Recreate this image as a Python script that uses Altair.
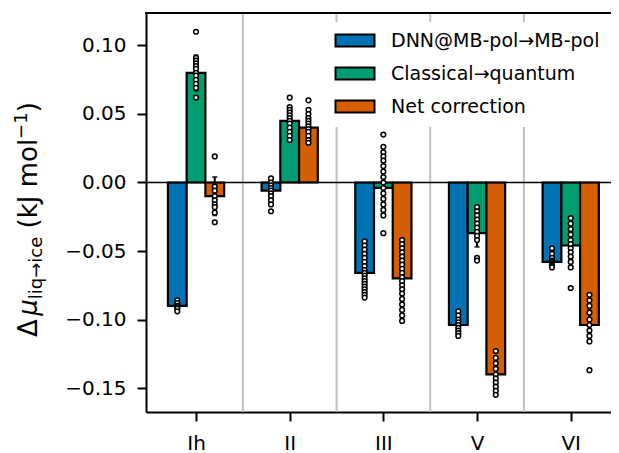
import altair as alt
import pandas as pd

categories = ["Ih", "II", "III", "V", "VI"]
series = ["DNN@MB-pol→MB-pol", "Classical→quantum", "Net correction"]
colors = ["#0173b2", "#029e73", "#d55e00"]
offsets = [-0.2, 0.0, 0.2]

# bar heights (kJ/mol)
dnn_mean = [-0.090, -0.006, -0.066, -0.104, -0.058]
cq_mean = [0.080, 0.045, -0.004, -0.037, -0.046]
net_mean = [-0.010, 0.040, -0.070, -0.140, -0.104]

# error-bar half-lengths
dnn_err = [0.002, 0.006, 0.012, 0.006, 0.003]
cq_err = [0.013, 0.008, 0.015, 0.010, 0.010]
net_err = [0.014, 0.008, 0.016, 0.012, 0.012]

# individual estimates (open circles)
pts_Ih_dnn = [-0.086, -0.088, -0.090, -0.091, -0.092, -0.094]
pts_Ih_cq = [0.110, 0.091, 0.089, 0.087, 0.085, 0.083, 0.080, 0.078, 0.075, 0.072, 0.069, 0.062]
pts_Ih_net = [0.019, -0.003, -0.006, -0.010, -0.013, -0.016, -0.018, -0.022, -0.029]
pts_II_dnn = [0.003, 0.000, -0.002, -0.004, -0.006, -0.008, -0.010, -0.013, -0.016, -0.021]
pts_II_cq = [0.062, 0.055, 0.053, 0.051, 0.049, 0.047, 0.045, 0.043, 0.040, 0.037, 0.034, 0.031]
pts_II_net = [0.060, 0.053, 0.050, 0.047, 0.045, 0.043, 0.041, 0.039, 0.037, 0.034, 0.031, 0.029]
pts_III_dnn = [-0.043, -0.046, -0.049, -0.052, -0.055, -0.058, -0.061, -0.064, -0.066,
               -0.068, -0.070, -0.072, -0.074, -0.076, -0.078, -0.080, -0.082, -0.084]
pts_III_cq = [0.035, 0.026, 0.022, 0.019, 0.016, 0.012, 0.008, 0.004, 0.000, -0.004,
              -0.008, -0.012, -0.016, -0.020, -0.024, -0.037]
pts_III_net = [-0.042, -0.045, -0.048, -0.051, -0.054, -0.057, -0.060, -0.063, -0.066, -0.069,
               -0.072, -0.075, -0.078, -0.081, -0.085, -0.089, -0.093, -0.097, -0.101]
pts_V_dnn = [-0.094, -0.097, -0.100, -0.102, -0.104, -0.106, -0.108, -0.110, -0.112]
pts_V_cq = [-0.018, -0.021, -0.024, -0.027, -0.030, -0.033, -0.036, -0.039, -0.042, -0.055, -0.057]
pts_V_net = [-0.123, -0.128, -0.132, -0.136, -0.140, -0.143, -0.146, -0.149, -0.152, -0.155]
pts_VI_dnn = [-0.048, -0.052, -0.055, -0.057, -0.058, -0.059, -0.060, -0.061, -0.062]
pts_VI_cq = [-0.026, -0.030, -0.034, -0.038, -0.042, -0.045, -0.048, -0.051, -0.054, -0.058, -0.062, -0.077]
pts_VI_net = [-0.082, -0.086, -0.090, -0.095, -0.100, -0.104, -0.108, -0.112, -0.116, -0.137]

separators = [0.5, 1.5, 2.5, 3.5]
y_ticks = [-0.15, -0.10, -0.05, 0.0, 0.05, 0.10]

FONT = "DejaVu Sans"
BAR_W = 0.2
PLOT_W, PLOT_H = 465, 399

means = [dnn_mean, cq_mean, net_mean]
errs = [dnn_err, cq_err, net_err]
pts = [
    [pts_Ih_dnn, pts_II_dnn, pts_III_dnn, pts_V_dnn, pts_VI_dnn],
    [pts_Ih_cq, pts_II_cq, pts_III_cq, pts_V_cq, pts_VI_cq],
    [pts_Ih_net, pts_II_net, pts_III_net, pts_V_net, pts_VI_net],
]

bar_rows, pt_rows = [], []
for s, name in enumerate(series):
    for i, cat in enumerate(categories):
        xc = i + offsets[s]
        bar_rows.append(dict(series=name, cat=cat, x=xc, x0=xc - BAR_W / 2, x1=xc + BAR_W / 2,
                             value=means[s][i], zero=0.0,
                             lo=means[s][i] - errs[s][i], hi=means[s][i] + errs[s][i]))
        for v in pts[s][i]:
            pt_rows.append(dict(series=name, x=xc, value=v))
bars_df = pd.DataFrame(bar_rows)
pts_df = pd.DataFrame(pt_rows)
sep_df = pd.DataFrame({"x": separators})

xscale = alt.Scale(domain=[-0.534, 4.430], nice=False, zero=False)
yscale = alt.Scale(domain=[-0.1675, 0.1237], nice=False, zero=False)
label_expr = "[" + ",".join("'" + c + "'" for c in categories) + "][round(datum.value)]"
xaxis = alt.Axis(values=list(range(len(categories))), labelExpr=label_expr, title=None, grid=False,
                 domainColor="black", domainWidth=2, tickColor="black", tickWidth=2, tickSize=9,
                 labelFont=FONT, labelFontSize=20, labelColor="black", labelPadding=12)
yaxis = alt.Axis(values=y_ticks, labelExpr="replace(format(datum.value, '.2f'), '-', '\u2212')",
                 title=None, grid=False, domainColor="black", domainWidth=2, tickColor="black",
                 tickWidth=2, tickSize=9, labelFont=FONT, labelFontSize=20, labelColor="black",
                 labelPadding=11)


def X(field):
    return alt.X(field, type="quantitative", scale=xscale, axis=xaxis)


def Y(field):
    return alt.Y(field, type="quantitative", scale=yscale, axis=yaxis)


sep = alt.Chart(sep_df).mark_rule(color="#bfbfbf", strokeWidth=2).encode(x=X("x"))

legend = alt.Legend(title=None, orient="none", legendX=177, legendY=9, padding=9,
                    fillColor="white", strokeColor="white", labelFont=FONT, labelFontSize=19,
                    labelColor="black", labelLimit=400, labelOffset=40, rowPadding=12,
                    symbolType="M-1,-1H5.5V1H-1Z", symbolSize=144, symbolStrokeColor="black",
                    symbolStrokeWidth=2, symbolOpacity=1)

bars = alt.Chart(bars_df).mark_bar(stroke="black", strokeWidth=2.2, opacity=1).encode(
    x=X("x0"), x2="x1", y=Y("value"), y2="zero",
    color=alt.Color("series:N", scale=alt.Scale(domain=series, range=colors), legend=legend),
)

zero_line = alt.Chart(sep_df.head(1)).mark_rule(color="black", strokeWidth=1.5).encode(y=alt.datum(0))

errbars = alt.Chart(bars_df).mark_rule(color="black", strokeWidth=2).encode(x=X("x"), y=Y("lo"), y2="hi")
caps_lo = alt.Chart(bars_df).mark_tick(color="black", orient="horizontal", size=5, thickness=2).encode(
    x=X("x"), y=Y("lo"))
caps_hi = alt.Chart(bars_df).mark_tick(color="black", orient="horizontal", size=5, thickness=2).encode(
    x=X("x"), y=Y("hi"))

points = alt.Chart(pts_df).mark_point(shape="circle", filled=True, fill="white", stroke="black",
                                      strokeWidth=1.5, size=22, opacity=1).encode(x=X("x"), y=Y("value"))

top_border = alt.Chart(sep_df.head(1)).mark_rule(color="black", strokeWidth=2).encode(
    y=alt.value(0), x=alt.value(-1), x2=alt.value(PLOT_W + 1))

# y-axis title: Δμ_{liq→ice} (kJ mol^{-1}), built from pieces (gap = leading space)
F, S = 26, 18
title_pieces = [
    ("\u0394", F, "normal", 0, 0.0, 0.816 * F),
    ("\u03bc", F, "italic", 0, 0.0, 0.636 * F),
    ("liq\u2192ice", S, "normal", 5, 0.0, 3.472 * S),
    ("(kJ mol", F, "normal", 0, 0.318 * F, 3.446 * F),
    ("\u22121", S, "normal", -10, 0.0, 1.474 * S),
    (")", F, "normal", 0, 0.0, 0.390 * F),
]
one = alt.Data(values=[{}])
title_layers = []
ypos = 324.0
for txt, size, style, dx, gap, w in title_pieces:
    ypos -= gap
    title_layers.append(
        alt.Chart(one).mark_text(angle=270, align="left", baseline="alphabetic", font=FONT,
                                 fontSize=size, fontStyle=style, color="black").encode(
            x=alt.value(-109 + dx), y=alt.value(ypos), text=alt.value(txt))
    )
    ypos -= w

chart = alt.layer(sep, bars, zero_line, errbars, caps_lo, caps_hi, points, top_border,
                  *title_layers).properties(
    width=PLOT_W, height=PLOT_H,
    padding={"left": 138, "top": 5, "right": 0, "bottom": 41},
    autosize=alt.AutoSizeParams(type="none"),
).configure_view(stroke=None).configure(background="white")

chart.save("out.html", embed_options={"renderer": "svg", "actions": False})
